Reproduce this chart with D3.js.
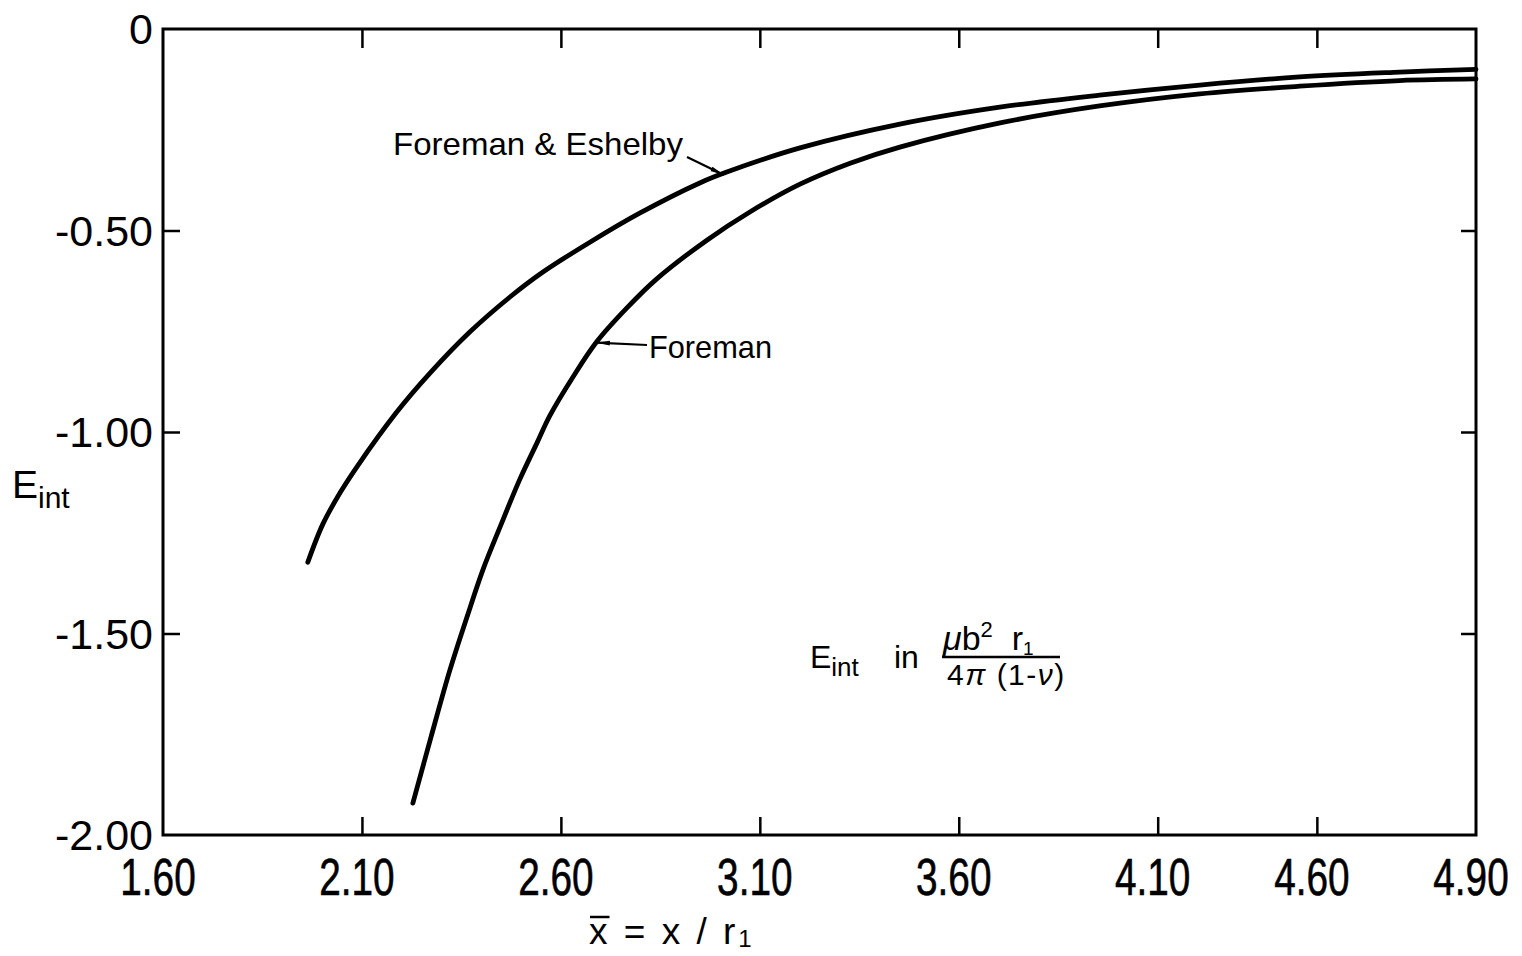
<!DOCTYPE html>
<html><head><meta charset="utf-8">
<script src="https://cdn.jsdelivr.net/npm/d3@7"></script>
<style>
html,body{margin:0;padding:0;background:#fff;}
svg{display:block;font-family:"Liberation Sans",Arial,sans-serif;}
</style></head><body>
<svg id="chart" width="1522" height="956"></svg>
<script>
// ---- data ----
const xTickValues = [1.6, 2.1, 2.6, 3.1, 3.6, 4.1, 4.5, 4.9];
const xTickLabels = ["1.60", "2.10", "2.60", "3.10", "3.60", "4.10", "4.60", "4.90"];
const yTickValues = [0, -0.5, -1.0, -1.5, -2.0];
const yTickLabels = ["0", "-0.50", "-1.00", "-1.50", "-2.00"];

// Foreman & Eshelby
const feX = [1.964, 2.002, 2.045, 2.087, 2.188, 2.271, 2.371, 2.472, 2.555, 2.673, 2.798, 2.949, 3.017, 3.201, 3.452, 3.703, 3.954, 4.206, 4.457, 4.708, 4.90];
const feY = [-1.323, -1.228, -1.151, -1.087, -0.950, -0.854, -0.752, -0.665, -0.603, -0.529, -0.457, -0.382, -0.355, -0.295, -0.236, -0.194, -0.164, -0.139, -0.119, -0.107, -0.100];

// Foreman
const fX = [2.228, 2.273, 2.321, 2.364, 2.404, 2.447, 2.497, 2.540, 2.572, 2.630, 2.690, 2.766, 2.841, 2.967, 3.075, 3.201, 3.327, 3.452, 3.704, 3.954, 4.206, 4.457, 4.708, 4.90];
const fY = [-1.921, -1.759, -1.591, -1.459, -1.342, -1.236, -1.117, -1.027, -0.960, -0.864, -0.776, -0.692, -0.620, -0.524, -0.454, -0.385, -0.333, -0.293, -0.233, -0.191, -0.161, -0.142, -0.128, -0.124];

const seriesNames = ["Foreman & Eshelby", "Foreman"];

// ---- layout ----
const svg = d3.select("#chart");
const x = d3.scaleLinear().domain([1.6, 4.9]).range([163, 1476]);
const y = d3.scaleLinear().domain([-2, 0]).range([835, 29]);
const ink = "#000";

// frame
svg.append("rect")
  .attr("x", x(1.6)).attr("y", y(0))
  .attr("width", x(4.9) - x(1.6)).attr("height", y(-2) - y(0))
  .attr("fill", "none").attr("stroke", ink).attr("stroke-width", 3);

// inward tick marks via axes
const innerX = xTickValues.slice(1, -1);
const innerY = yTickValues.slice(1, -1);
function styleAxis(g) {
  g.select(".domain").remove();
  g.selectAll(".tick line").attr("stroke", ink).attr("stroke-width", 2.5);
  g.selectAll(".tick text").remove();
}
svg.append("g").attr("transform", `translate(0,${y(-2)})`)
  .call(d3.axisBottom(x).tickValues(innerX).tickSize(-18).tickFormat(""))
  .call(styleAxis);
svg.append("g").attr("transform", `translate(0,${y(0)})`)
  .call(d3.axisTop(x).tickValues(innerX).tickSize(-19).tickFormat(""))
  .call(styleAxis);
svg.append("g").attr("transform", `translate(${x(1.6)},0)`)
  .call(d3.axisLeft(y).tickValues(innerY).tickSize(-17).tickFormat(""))
  .call(styleAxis);
svg.append("g").attr("transform", `translate(${x(4.9)},0)`)
  .call(d3.axisRight(y).tickValues(innerY).tickSize(-15).tickFormat(""))
  .call(styleAxis);

// x tick labels
xTickValues.forEach((v, i) => {
  svg.append("g").attr("transform", `translate(${x(v) - 5},895)`)
    .append("text").attr("transform", "scale(0.76,1)")
    .attr("text-anchor", "middle").attr("font-size", 51).attr("fill", ink)
    .attr("stroke", ink).attr("stroke-width", 0.6)
    .text(xTickLabels[i]);
});
// y tick labels
yTickValues.forEach((v, i) => {
  svg.append("text")
    .attr("x", 153).attr("y", y(v) + 15)
    .attr("text-anchor", "end").attr("font-size", 43).attr("fill", ink)
    .text(yTickLabels[i]);
});

// y axis title
const yt = svg.append("text").attr("x", 12).attr("y", 498).attr("fill", ink).attr("font-size", 39);
yt.append("tspan").text("E");
yt.append("tspan").attr("font-size", 30).attr("dy", 10).text("int");

// x axis title
const xt = svg.append("text").attr("x", 589).attr("y", 944).attr("fill", ink)
  .attr("font-size", 37).attr("letter-spacing", 3);
xt.append("tspan").text("x");
xt.append("tspan").text(" = x / r");
xt.append("tspan").attr("font-size", 24).attr("dy", 3).text("1");
const ext = xt.node().getExtentOfChar(0);
svg.append("line")
  .attr("x1", ext.x + 1).attr("x2", ext.x + ext.width - 1)
  .attr("y1", 917).attr("y2", 917)
  .attr("stroke", ink).attr("stroke-width", 2.5);

// curves
const line = d3.line().x(d => x(d[0])).y(d => y(d[1])).curve(d3.curveCatmullRom.alpha(0.5));
const curves = [d3.zip(feX, feY), d3.zip(fX, fY)];
svg.selectAll("path.curve").data(curves).join("path")
  .attr("class", "curve")
  .attr("d", line).attr("fill", "none").attr("stroke", ink)
  .attr("stroke-width", 4.8).attr("stroke-linecap", "round").attr("stroke-linejoin", "round");

// arrow marker
svg.append("defs").append("marker")
  .attr("id", "ah").attr("viewBox", "0 0 14 6").attr("refX", 14).attr("refY", 3)
  .attr("markerWidth", 14).attr("markerHeight", 6).attr("markerUnits", "userSpaceOnUse")
  .attr("orient", "auto")
  .append("path").attr("d", "M0,0.6 L14,3 L0,5.4 Z").attr("fill", ink);

// annotations
svg.append("text").attr("x", 393).attr("y", 155).attr("font-size", 32).attr("fill", ink)
  .attr("textLength", 290).attr("lengthAdjust", "spacingAndGlyphs").text(seriesNames[0]);
svg.append("line").attr("x1", 687).attr("y1", 157).attr("x2", x(3.01)).attr("y2", y(-0.362))
  .attr("stroke", ink).attr("stroke-width", 2.2).attr("marker-end", "url(#ah)");

svg.append("text").attr("x", 649).attr("y", 358).attr("font-size", 32).attr("fill", ink)
  .attr("textLength", 123).attr("lengthAdjust", "spacingAndGlyphs").text(seriesNames[1]);
svg.append("line").attr("x1", 647).attr("y1", 345).attr("x2", x(2.688)).attr("y2", y(-0.778))
  .attr("stroke", ink).attr("stroke-width", 2.2).attr("marker-end", "url(#ah)");

// units label
const u = svg.append("text").attr("x", 810).attr("y", 668).attr("font-size", 32).attr("fill", ink);
u.append("tspan").text("E");
u.append("tspan").attr("font-size", 26).attr("dy", 8).text("int");
svg.append("text").attr("x", 894).attr("y", 668).attr("font-size", 32).attr("fill", ink).text("in");
const num = svg.append("text").attr("x", 943).attr("y", 650).attr("font-size", 34).attr("fill", ink);
num.append("tspan").attr("font-style", "italic").text("μ");
num.append("tspan").text("b");
num.append("tspan").attr("font-size", 22).attr("dy", -13).text("2");
num.append("tspan").attr("dy", 13).text("\u00a0\u00a0r");
num.append("tspan").attr("font-size", 19).attr("dy", 5).text("1");
svg.append("line").attr("x1", 942).attr("x2", 1060).attr("y1", 657).attr("y2", 657)
  .attr("stroke", ink).attr("stroke-width", 2.5);
const den = svg.append("text").attr("x", 947).attr("y", 685).attr("font-size", 30)
  .attr("letter-spacing", 1.5).attr("fill", ink);
den.append("tspan").text("4");
den.append("tspan").attr("font-style", "italic").text("π");
den.append("tspan").text(" (1-");
den.append("tspan").attr("font-style", "italic").text("ν");
den.append("tspan").text(")");
</script>
</body></html>
